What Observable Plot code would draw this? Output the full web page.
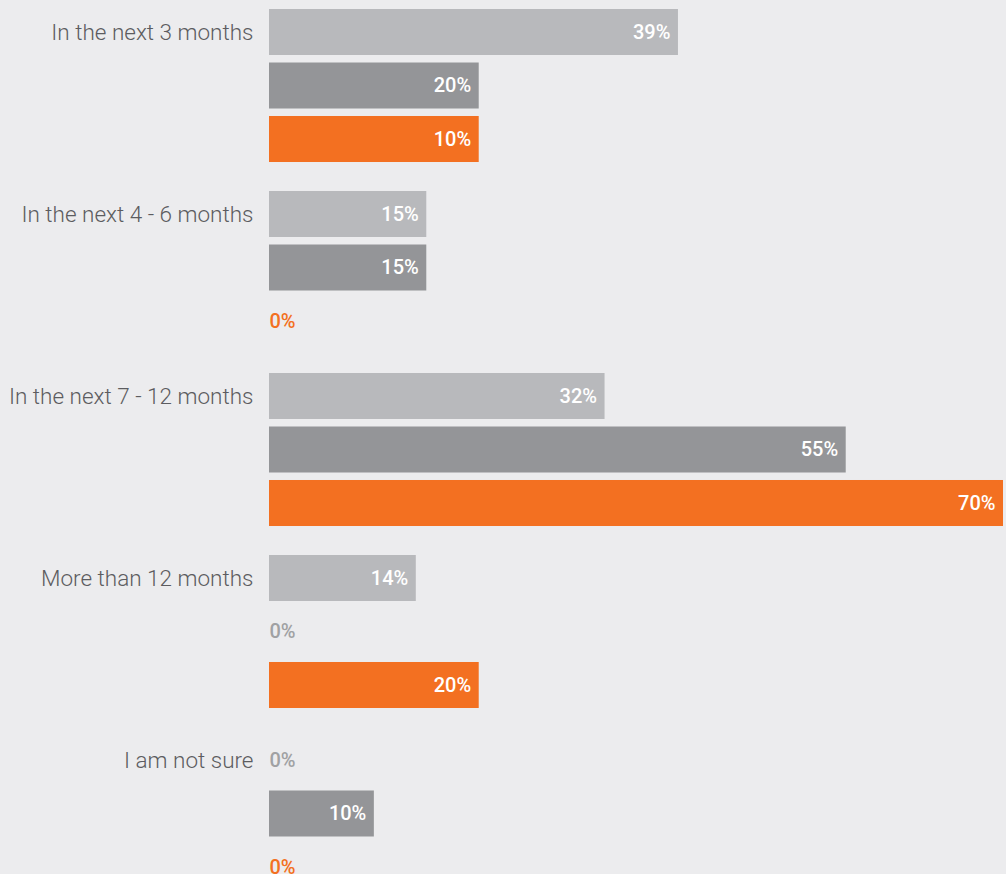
<!DOCTYPE html>
<html><head><meta charset="utf-8">
<script src="https://cdn.jsdelivr.net/npm/d3@7"></script>
<script src="https://cdn.jsdelivr.net/npm/@observablehq/plot@0.6"></script>
<style>
html,body{margin:0;padding:0;background:#ececee;overflow:hidden;}
</style></head><body><div id="chart"></div>
<script>
const categories = ["In the next 3 months","In the next 4 - 6 months","In the next 7 - 12 months","More than 12 months","I am not sure"];
const series = ["Series 1","Series 2","Series 3"];
// bar lengths as drawn in the picture
const values1 = [39,15,32,14,0];
const values2 = [20,15,55,0,10];
const values3 = [20,0,70,20,0];
// printed labels (the first orange bar is labelled 10% in the source)
const labels1 = [39,15,32,14,0];
const labels2 = [20,15,55,0,10];
const labels3 = [10,0,70,20,0];
const barColors = ["#b8b9bc","#949598","#f37021"];
const zeroGray = "#a0a1a3";
const zeroOrange = "#f37021";

const allValues = [values1, values2, values3];
const allLabels = [labels1, labels2, labels3];
const rows = categories.flatMap((c, i) => series.map((s, j) => ({category: c, series: s, value: allValues[j][i], label: allLabels[j][i] + "%"})));
const pos = rows.filter(d => d.value > 0);
const zeroGrayRows = rows.filter(d => d.value === 0 && d.series !== series[2]);
const zeroOrangeRows = rows.filter(d => d.value === 0 && d.series === series[2]);

const valueFont = {fontSize: 20, fontWeight: 500, fontFamily: "Roboto, sans-serif"};

const chart = Plot.plot({
  width: 1006, height: 890,
  marginLeft: 269, marginRight: 3, marginTop: 9, marginBottom: 0,
  style: {background: "#ececee", fontFamily: "Roboto, sans-serif"},
  x: {domain: [0, 70], axis: null},
  y: {domain: series, axis: null, paddingInner: 0.14, paddingOuter: 0, round: false},
  fy: {domain: categories, axis: null, paddingInner: 0.1593, paddingOuter: 0, round: false},
  color: {domain: series, range: barColors},
  marks: [
    Plot.barX(pos, {x: "value", y: "series", fy: "category", fill: "series"}),
    Plot.text(pos, {x: "value", y: "series", fy: "category", text: "label", textAnchor: "end", dx: -8, fill: "white", ...valueFont}),
    Plot.text(zeroGrayRows, {x: 0, y: "series", fy: "category", text: "label", textAnchor: "start", fill: zeroGray, ...valueFont}),
    Plot.text(zeroOrangeRows, {x: 0, y: "series", fy: "category", text: "label", textAnchor: "start", fill: zeroOrange, ...valueFont}),
    Plot.text(categories, {x: 0, y: () => series[0], fy: d => d, text: d => d, textAnchor: "end", dx: -16, fill: "#5c5c60", fontSize: 22.5, fontWeight: 300})
  ]
});
document.getElementById("chart").append(chart);
</script>
</body></html>
